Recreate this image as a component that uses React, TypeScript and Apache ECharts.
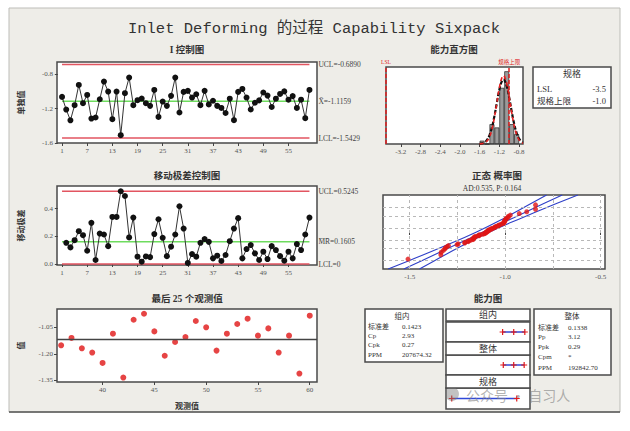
import React, { useEffect, useRef } from "react";
import * as echarts from "echarts";

// ---------------- data ----------------
const individuals = [
  -1.065, -1.212, -1.337, -1.161, -0.926, -1.138, -1.042, -1.316, -1.304, -1.092,
  -0.887, -1.003, -1.324, -1.003, -1.509, -1.022, -0.841, -1.161, -1.103, -1.084,
  -1.138, -1.169, -0.984, -1.297, -1.119, -1.169, -1.053, -0.841, -1.246, -1.007,
  -0.995, -1.073, -1.034, -1.161, -0.995, -1.152, -1.110, -1.169, -1.193, -1.252,
  -1.086, -1.335, -1.007, -0.973, -1.073, -1.211, -1.133, -1.105, -1.014, -1.050,
  -1.182, -1.086, -1.031, -1.001, -1.097, -1.056, -1.193, -1.097, -1.312, -0.984,
];
const movingRanges = [
  0.153, 0.120, 0.172, 0.237, 0.208, 0.096, 0.297, 0.029, 0.220, 0.213,
  0.129, 0.340, 0.340, 0.525, 0.491, 0.192, 0.335, 0.053, 0.017, 0.055,
  0.050, 0.216, 0.323, 0.189, 0.057, 0.125, 0.213, 0.417, 0.256, 0.008,
  0.072, 0.053, 0.153, 0.180, 0.160, 0.041, 0.060, 0.022, 0.065, 0.165,
  0.256, 0.331, 0.041, 0.108, 0.137, 0.077, 0.029, 0.089, 0.036, 0.129,
  0.101, 0.057, 0.024, 0.089, 0.041, 0.144, 0.101, 0.213, 0.335,
];
const obsNumbers = individuals.map((_, i) => i + 1);
const obsTicks = [1, 7, 13, 19, 25, 31, 37, 43, 49, 55];
const last25Ticks = [40, 45, 50, 55, 60];

const iMean = -1.1159, iUCL = -0.689, iLCL = -1.5429;
const mrMean = 0.1605, mrUCL = 0.5245, mrLCL = 0;

const histCenters = [-1.55, -1.45, -1.35, -1.25, -1.15, -1.05, -0.95, -0.85];
const histCounts = [1, 0, 6, 5, 17, 22, 6, 3];
const curveX = [-1.6, -1.55, -1.5, -1.45, -1.4, -1.35, -1.3, -1.25, -1.2, -1.15, -1.116, -1.1, -1.05, -1.0, -0.95, -0.9, -0.85, -0.8, -0.75, -0.72];
const withinCurve = [0.06, 0.19, 0.51, 1.23, 2.67, 5.04, 8.44, 12.5, 16.4, 18.95, 19.5, 19.4, 17.5, 14.0, 9.87, 6.16, 3.39, 1.66, 0.71, 0.41];
const overallCurve = [0.03, 0.11, 0.34, 0.92, 2.17, 4.48, 8.04, 12.5, 17.0, 20.0, 20.7, 20.55, 18.3, 14.2, 9.6, 5.64, 2.88, 1.27, 0.49, 0.26];
const histTicks = [-3.2, -2.8, -2.4, -2.0, -1.6, -1.2, -0.8];
const LSL = -3.5, USL = -1.0;

const normTicks = [-1.5, -1.0, -0.5];
const normGridX = [-1.5, -1.25, -1.0, -0.75, -0.5];
const normGridZ = [-2.35, -1.4, -0.67, 0.3, 1.3, 2.1];
const bandZ = [-3.1, -2.4, -1.2, 0, 1.2, 2.4, 3.1];
const bandLower = [-1.613, -1.504, -1.321, -1.15, -1.0, -0.862, -0.783];
const bandCenter = [-1.531, -1.437, -1.276, -1.116, -0.955, -0.795, -0.701];
const bandUpper = [-1.449, -1.37, -1.231, -1.082, -0.91, -0.728, -0.619];

const withinInterval = [-1.5429, -1.1159, -0.689];
const overallInterval = [-1.5173, -1.1159, -0.7145];
const specInterval = [LSL, USL];

const withinRows = [["标准差", "0.1423"], ["Cp", "2.93"], ["Cpk", "0.27"], ["PPM", "207674.32"]];
const overallRows = [["标准差", "0.1338"], ["Pp", "3.12"], ["Ppk", "0.29"], ["Cpm", "*"], ["PPM", "192842.70"]];

// ---------------- helpers ----------------
function invNorm(p: number): number {
  const a = [-3.969683028665376e1, 2.209460984245205e2, -2.759285104469687e2, 1.38357751867269e2, -3.066479806614716e1, 2.506628277459239];
  const b = [-5.447609879822406e1, 1.615858368580409e2, -1.556989798598866e2, 6.680131188771972e1, -1.328068155288572e1];
  const c = [-7.784894002430293e-3, -3.223964580411365e-1, -2.400758277161838, -2.549671010315230, 4.374664141464968, 2.938163982698783];
  const d = [7.784695709041462e-3, 3.224671290700398e-1, 2.445134137142996, 3.754408661907416];
  const pl = 0.02425;
  if (p < pl) {
    const q = Math.sqrt(-2 * Math.log(p));
    return (((((c[0] * q + c[1]) * q + c[2]) * q + c[3]) * q + c[4]) * q + c[5]) / ((((d[0] * q + d[1]) * q + d[2]) * q + d[3]) * q + 1);
  }
  if (p > 1 - pl) {
    const q = Math.sqrt(-2 * Math.log(1 - p));
    return -(((((c[0] * q + c[1]) * q + c[2]) * q + c[3]) * q + c[4]) * q + c[5]) / ((((d[0] * q + d[1]) * q + d[2]) * q + d[3]) * q + 1);
  }
  const q = p - 0.5, r = q * q;
  return ((((((a[0] * r + a[1]) * r + a[2]) * r + a[3]) * r + a[4]) * r + a[5]) * q) / (((((b[0] * r + b[1]) * r + b[2]) * r + b[3]) * r + b[4]) * r + 1);
}

const serif = "'Liberation Serif','DejaVu Serif','Noto Sans CJK SC',serif";
const mono = "'Liberation Mono','DejaVu Sans Mono','Noto Sans CJK SC',monospace";
const RED = "#e25560";
const GREEN = "#6edc5e";
const BORDER = "#4a4a4a";
const plusPath = "path://M4,0H6V4H10V6H6V10H4V6H0V4H4Z";

const labelStyle = { fontSize: 7, color: "#555", fontFamily: serif };

function axis(gridIndex: number, min: number, max: number, ticks: number[] | null, digits: number, extra: any = {}) {
  const show = !!ticks;
  return {
    type: "value",
    gridIndex,
    min,
    max,
    axisLine: { show: false },
    axisTick: show ? { show: true, length: 3, lineStyle: { color: "#444" }, customValues: ticks } : { show: false },
    axisLabel: show
      ? { show: true, customValues: ticks, margin: 4, formatter: (v: number) => v.toFixed(digits), ...labelStyle }
      : { show: false },
    splitLine: { show: false },
    ...extra,
  };
}

function grid(left: number, top: number, width: number, height: number) {
  return { left, top, width, height, show: true, backgroundColor: "#fff", borderColor: BORDER, borderWidth: 1.5, containLabel: false };
}

function limitLine(xi: number, value: number, color: string, text: string, from: number, to: number) {
  return {
    type: "line",
    xAxisIndex: xi,
    yAxisIndex: xi,
    data: [[from, value], [to, value]],
    symbol: "none",
    z: 2,
    lineStyle: { color, width: 1.5 },
    endLabel: { show: true, formatter: text, distance: 9, fontSize: 7.5, color: "#444", fontFamily: serif },
  };
}

function txt(x: number, y: number, text: string, size = 7.5, align = "left", extra: any = {}) {
  return {
    type: "text",
    x,
    y,
    z: 20,
    silent: true,
    style: {
      text,
      fill: extra.fill || "#333",
      fontSize: size,
      fontFamily: extra.fontFamily || serif,
      fontWeight: extra.fontWeight || "normal",
      align,
      textAlign: align,
      verticalAlign: "middle",
      textVerticalAlign: "middle",
      opacity: extra.opacity == null ? 1 : extra.opacity,
    },
  };
}

function box(x: number, y: number, w: number, h: number, fill = "#fff") {
  return { type: "rect", z: 15, silent: true, shape: { x, y, width: w, height: h }, style: { fill, stroke: BORDER, lineWidth: 1.5 } };
}

export default function App() {
  const ref = useRef<HTMLDivElement>(null);
  useEffect(() => {
    document.body.style.margin = "0";
    if (!ref.current) return;
    const chart = echarts.init(ref.current, null, { renderer: "svg" });

    const iData = individuals.map((v, i) => [obsNumbers[i], v]);
    const mrData = movingRanges.map((v, i) => [obsNumbers[i + 1], v]);
    const lastData = individuals.slice(-25).map((v, i) => [obsNumbers[individuals.length - 25 + i], v]);
    const histData = histCenters.map((c, i) => [c, histCounts[i]]);
    const sorted = [...individuals].sort((a, b) => a - b);
    const n = sorted.length;
    const normPts = sorted.map((v, i) => [v, invNorm((i + 1 - 0.3) / (n + 0.4))]);
    const first = obsNumbers[0], last = obsNumbers[obsNumbers.length - 1];

    const titleFont = { fontWeight: "bold" };

    const graphic: any[] = [
      { type: "rect", z: -10, silent: true, shape: { x: 9, y: 8, width: 611, height: 404 }, style: { fill: "#eeede8", stroke: "#bdbdb8", lineWidth: 1 } },
      { type: "line", z: -9, silent: true, shape: { x1: 9, y1: 412, x2: 620, y2: 412 }, style: { stroke: "#555", lineWidth: 1.5 } },
      txt(314, 29, "Inlet Deforming 的过程 Capability Sixpack", 15.5, "center", { fontFamily: mono }),
      txt(187, 50, "I 控制图", 9.5, "center", titleFont),
      txt(187, 176, "移动极差控制图", 9.5, "center", titleFont),
      txt(187, 299, "最后 25 个观测值", 9.5, "center", titleFont),
      txt(454, 50, "能力直方图", 9.5, "center", titleFont),
      txt(497, 176, "正态 概率图", 9.5, "center", titleFont),
      txt(492, 188, "AD:0.535, P: 0.164", 7.5, "center"),
      txt(488, 299, "能力图", 9.5, "center", titleFont),
      // spec box
      box(533, 67, 78, 41),
      txt(572, 74, "规格", 9, "center"),
      txt(537, 89, "LSL", 8.5),
      txt(606, 89, "-3.5", 8.5, "right"),
      txt(537, 101, "规格上限", 8.5),
      txt(606, 101, "-1.0", 8.5, "right"),
      // within box
      box(365, 309, 78, 53),
      txt(402, 316.5, "组内", 7.5, "center"),
      // overall box
      box(534, 309, 77, 66),
      txt(572, 316.5, "整体", 7.5, "center"),
      // capability label boxes
      box(446, 309, 84, 12),
      txt(488, 315, "组内", 9, "center"),
      box(446, 342, 84, 13),
      txt(488, 348.5, "整体", 9, "center"),
      box(446, 375, 84, 13),
      txt(488, 381.5, "规格", 9, "center"),
      // watermark
      { type: "circle", z: 30, silent: true, shape: { cx: 452, cy: 394, r: 7 }, style: { fill: "rgba(120,120,120,0.45)" } },
      txt(466, 395, "公众号 · 自习人", 14, "left", { fill: "#808080", opacity: 0.6, fontFamily: "'Noto Sans CJK SC',sans-serif" }),
    ];
    const wy = [326.5, 335.5, 345, 355];
    withinRows.forEach((r, i) => {
      graphic.push(txt(368, wy[i], r[0], 7));
      graphic.push(txt(402, wy[i], r[1], 7));
    });
    const oy = [327.5, 337, 346.5, 357, 368];
    overallRows.forEach((r, i) => {
      graphic.push(txt(538, oy[i], r[0], 7));
      graphic.push(txt(568, oy[i], r[1], 7));
    });

    const nameStyle = { fontSize: 8, color: "#333", fontFamily: serif, fontWeight: "bold" };

    const option: any = {
      animation: false,
      backgroundColor: "#ffffff",
      graphic,
      grid: [
        grid(57, 62, 260, 81),
        grid(57, 186, 260, 79),
        grid(57, 309, 260, 73),
        grid(386, 67, 137, 77),
        grid(383, 195, 222, 74),
        grid(446, 322, 84, 20),
        grid(446, 355, 84, 20),
        grid(446, 388, 84, 21),
      ],
      xAxis: [
        axis(0, -0.2, 61.8, obsTicks, 0),
        axis(1, -0.2, 61.8, obsTicks, 0),
        axis(2, 35.6, 60.7, last25Ticks, 0, { name: "观测值", nameLocation: "middle", nameGap: 20, nameTextStyle: nameStyle }),
        axis(3, -3.5, -0.72, histTicks, 1),
        axis(4, -1.64, -0.477, normTicks, 1),
        axis(5, -3.72, -0.49, null, 0),
        axis(6, -3.72, -0.49, null, 0),
        axis(7, -3.72, -0.49, null, 0),
      ],
      yAxis: [
        axis(0, -1.6, -0.66, [-1.6, -1.2, -0.8], 1, { name: "单独值", nameLocation: "middle", nameGap: 32, nameRotate: 90, nameTextStyle: nameStyle }),
        axis(1, -0.007, 0.563, [0, 0.2, 0.4], 1, { name: "移动极差", nameLocation: "middle", nameGap: 32, nameRotate: 90, nameTextStyle: nameStyle }),
        axis(2, -1.36, -0.946, [-1.35, -1.2, -1.05], 2, { name: "值", nameLocation: "middle", nameGap: 32, nameRotate: 90, nameTextStyle: nameStyle }),
        axis(3, 0, 23.3, null, 0),
        axis(4, -3.1, 3.1, null, 0),
        axis(5, -1, 1, null, 0),
        axis(6, -1, 1, null, 0),
        axis(7, -1, 1, null, 0),
      ],
      series: [
        // I chart
        limitLine(0, iUCL, RED, "UCL=-0.6890", first, last),
        limitLine(0, iMean, GREEN, "X̄=-1.1159", first, last),
        limitLine(0, iLCL, RED, "LCL=-1.5429", first, last),
        {
          type: "line", xAxisIndex: 0, yAxisIndex: 0, data: iData, z: 4,
          symbol: "circle", symbolSize: 6, itemStyle: { color: "#111" }, lineStyle: { color: "#333", width: 1 },
        },
        // MR chart
        limitLine(1, mrUCL, RED, "UCL=0.5245", first, last),
        limitLine(1, mrMean, GREEN, "M̄R̄=0.1605", first, last),
        limitLine(1, mrLCL, RED, "LCL=0", first, last),
        {
          type: "line", xAxisIndex: 1, yAxisIndex: 1, data: mrData, z: 4,
          symbol: "circle", symbolSize: 6, itemStyle: { color: "#111" }, lineStyle: { color: "#333", width: 1 },
        },
        // last 25
        {
          type: "scatter", xAxisIndex: 2, yAxisIndex: 2, data: lastData, z: 4,
          symbol: "circle", symbolSize: 6, itemStyle: { color: "#e01515" },
          markLine: {
            silent: true, symbol: ["none", "none"], label: { show: false },
            lineStyle: { color: "#444", width: 1.3, type: "solid" },
            data: [{ yAxis: iMean }],
          },
        },
        // histogram
        {
          type: "bar", xAxisIndex: 3, yAxisIndex: 3, data: histData, barWidth: 4.9, z: 2,
          itemStyle: { color: "#9a9a9a", borderColor: "#222", borderWidth: 0.7 },
          markLine: {
            silent: true, symbol: ["none", "none"],
            lineStyle: { color: "#e02020", width: 1.5, type: [4, 2] },
            label: { show: true, position: "end", fontSize: 5.5, color: "#e02020", fontFamily: serif, distance: 2 },
            data: [
              { xAxis: LSL, label: { formatter: "LSL" } },
              { xAxis: USL, label: { formatter: "规格上限" } },
            ],
          },
        },
        {
          type: "line", xAxisIndex: 3, yAxisIndex: 3, data: curveX.map((x, i) => [x, withinCurve[i]]), z: 3,
          smooth: true, symbol: "none", lineStyle: { color: "#111", width: 2.2, type: [4, 2] },
        },
        {
          type: "line", xAxisIndex: 3, yAxisIndex: 3, data: curveX.map((x, i) => [x, overallCurve[i]]), z: 4,
          smooth: true, symbol: "none", lineStyle: { color: "#e52020", width: 1.6, type: [4, 3] },
        },
        // normal probability plot
        {
          type: "scatter", xAxisIndex: 4, yAxisIndex: 4, data: normPts, z: 5,
          symbol: "circle", symbolSize: 5, itemStyle: { color: "#e01515" },
          markLine: {
            silent: true, symbol: ["none", "none"], label: { show: false },
            lineStyle: { color: "#b8b8b8", width: 1, type: [3, 3] },
            data: [...normGridX.map((x) => ({ xAxis: x })), ...normGridZ.map((z) => ({ yAxis: z }))],
          },
        },
        ...[bandLower, bandCenter, bandUpper].map((arr) => ({
          type: "line", xAxisIndex: 4, yAxisIndex: 4, z: 3, smooth: true, symbol: "none",
          data: arr.map((x, i) => [x, bandZ[i]]),
          lineStyle: { color: "#2e3fc8", width: 1.1 },
        })),
        // capability plot
        ...[withinInterval, overallInterval, specInterval].map((arr, k) => ({
          type: "line", xAxisIndex: 5 + k, yAxisIndex: 5 + k, z: 4,
          data: arr.map((x) => [x, 0]),
          symbol: plusPath, symbolSize: 6,
          itemStyle: { color: "#e01818" },
          lineStyle: { color: "#3048d8", width: 1.6 },
        })),
      ],
    };
    chart.setOption(option);
    return () => chart.dispose();
  }, []);
  return <div ref={ref} style={{ width: 630, height: 431 }} />;
}
